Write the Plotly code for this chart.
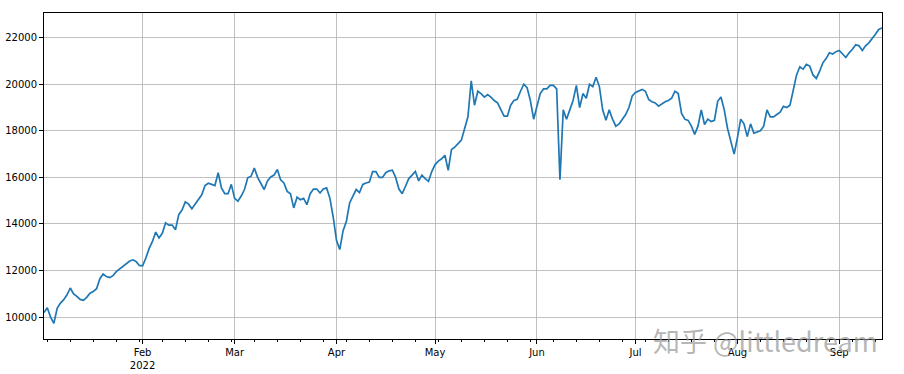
import plotly.graph_objects as go
import pandas as pd

# Daily values, 2022-01-02 .. 2022-09-14
jan = [10200, 10400, 10000, 9730, 10380, 10600, 10750, 10960, 11250, 11000,
       10890, 10760, 10720, 10850, 11030, 11100, 11220, 11650, 11850, 11740,
       11700, 11780, 11950, 12060, 12180, 12270, 12400, 12460, 12390, 12220]
feb = [12200, 12540, 12950, 13250, 13650, 13400, 13600, 14050, 13950, 13950,
       13750, 14400, 14600, 14950, 14850, 14650, 14850, 15050, 15250, 15650,
       15750, 15700, 15650, 16200, 15550, 15300, 15300, 15700]
mar = [15100, 14980, 15200, 15480, 15980, 16050, 16400, 16000, 15750, 15480,
       15850, 16020, 16100, 16340, 15900, 15760, 15400, 15300, 14690, 15150,
       15040, 15100, 14830, 15300, 15500, 15500, 15330, 15500, 15550, 15100,
       14300]
apr = [13300, 12900, 13700, 14100, 14900, 15200, 15480, 15350, 15700, 15760,
       15800, 16250, 16250, 16000, 16000, 16200, 16280, 16310, 16000, 15500,
       15300, 15620, 15950, 16100, 16260, 15850, 16100, 15950, 15830, 16250]
may = [16550, 16700, 16800, 16950, 16300, 17200, 17300, 17450, 17600, 18100,
       18600, 20150, 19100, 19700, 19600, 19450, 19560, 19450, 19300, 19200,
       18900, 18630, 18630, 19100, 19300, 19350, 19700, 20000, 19850, 19300,
       18500]
jun = [19000, 19600, 19800, 19800, 19950, 19950, 19800, 15900, 18900, 18500,
       18900, 19300, 19950, 19000, 19600, 19400, 20000, 19900, 20300, 19900,
       18900, 18450, 18900, 18500, 18200, 18300, 18500, 18700, 19000, 19500]
jul = [19650, 19700, 19780, 19700, 19350, 19250, 19200, 19060, 19150, 19250,
       19300, 19400, 19700, 19600, 18750, 18500, 18450, 18200, 17850, 18200,
       18900, 18270, 18500, 18400, 18450, 19270, 19450, 18900, 18100, 17600,
       17000]
aug = [17700, 18500, 18300, 17750, 18300, 17900, 17950, 18000, 18200, 18900,
       18600, 18600, 18700, 18800, 19050, 19000, 19100, 19800, 20400, 20750,
       20650, 20850, 20780, 20400, 20250, 20550, 20920, 21100, 21350, 21300,
       21400]
sep = [21450, 21300, 21150, 21350, 21500, 21700, 21650, 21450, 21650, 21780,
       21950, 22150, 22350, 22420]

values = jan + feb + mar + apr + may + jun + jul + aug + sep
dates = pd.date_range("2022-01-02", periods=len(values), freq="D")

month_ticks = ["2022-02-01", "2022-03-01", "2022-04-01", "2022-05-01",
               "2022-06-01", "2022-07-01", "2022-08-01", "2022-09-01"]
month_labels = ["Feb<br>2022", "Mar", "Apr", "May", "Jun", "Jul", "Aug", "Sep"]
y_ticks = [10000, 12000, 14000, 16000, 18000, 20000, 22000]
y_labels = ["10000", "12000", "14000", "16000", "18000", "20000", "22000"]

fig = go.Figure()
fig.add_trace(go.Scatter(x=dates, y=values, mode="lines",
                         line=dict(color="#1f77b4", width=1.7),
                         showlegend=False, hoverinfo="skip"))

font = dict(family="DejaVu Sans", size=10, color="#000000")
fig.update_layout(
    width=904, height=374,
    margin=dict(l=44, r=22, t=13, b=35),
    paper_bgcolor="white", plot_bgcolor="white",
    font=font,
    xaxis=dict(
        range=[dates[0], dates[-1]],
        tickvals=month_ticks, ticktext=month_labels,
        showgrid=True, gridcolor="#b0b0b0", gridwidth=0.8,
        showline=True, linecolor="black", linewidth=1, mirror=True,
        ticks="outside", ticklen=4, tickcolor="black",
        tickfont=font, zeroline=False, automargin=False,
        minor=dict(tick0="2022-01-03", dtick=7 * 86400000, ticks="outside",
                   ticklen=2, tickcolor="black", showgrid=False),
    ),
    yaxis=dict(
        range=[9060, 23060],
        tickvals=y_ticks, ticktext=y_labels,
        showgrid=True, gridcolor="#b0b0b0", gridwidth=0.8,
        showline=True, linecolor="black", linewidth=1, mirror=True,
        ticks="outside", ticklen=4, tickcolor="black",
        tickfont=font, zeroline=False, automargin=False,
    ),
    annotations=[dict(
        text="知乎 @littledream", xref="paper", yref="paper",
        x=0.998, y=-0.005, xanchor="right", yanchor="middle",
        showarrow=False,
        font=dict(family="Noto Sans CJK SC", size=27,
                  color="rgba(150,150,150,0.7)"),
    )],
)

fig.write_html("out.html",
               config={"displayModeBar": False, "staticPlot": True},
               post_script="document.body.style.margin='0';"
                           "document.body.style.padding='0';")
